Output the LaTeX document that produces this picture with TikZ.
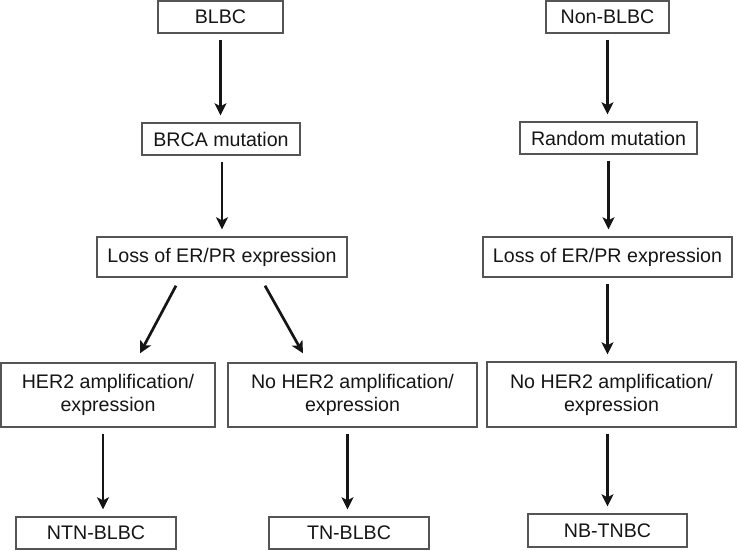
\documentclass[tikz,border=0pt]{standalone}
\usepackage{fontspec}
\setmainfont{Liberation Sans}
\usetikzlibrary{arrows.meta,calc}
\definecolor{boxgray}{HTML}{555555}
\definecolor{txt}{HTML}{151515}
\begin{document}
\begin{tikzpicture}[x=1bp,y=-1bp,
  box/.style={draw=boxgray, line width=1.4bp, inner sep=0pt, text=txt,
    font=\fontsize{19.7}{23}\selectfont, align=center},
  arr/.style={-{Stealth[length=12bp,width=12bp,inset=3bp]}, line width=2.7bp,
    draw=txt, shorten <=6bp, shorten >=7bp},
  darr/.style={-{Stealth[length=12bp,width=12bp,inset=3bp]}, line width=2.7bp, draw=txt}]
\useasboundingbox (0,0) rectangle (738,551);
% left tree
\node[box, minimum width=125bp, minimum height=32bp] (blbc) at (220.5,17) {BLBC};
\node[box, minimum width=158bp, minimum height=32bp] (brca) at (221,139) {BRCA mutation};
\node[box, minimum width=250bp, minimum height=40bp] (loss1) at (222,257) {Loss of ER/PR expression};
\node[box, minimum width=214bp, minimum height=64bp] (her2) at (108,395) {HER2 amplification/\\expression};
\node[box, minimum width=249bp, minimum height=64bp] (noher2) at (352.5,395) {No HER2 amplification/\\expression};
\node[box, minimum width=160bp, minimum height=32bp] (ntn) at (96,533) {NTN-BLBC};
\node[box, minimum width=160bp, minimum height=32bp] (tn) at (349,533) {TN-BLBC};
% right tree
\node[box, minimum width=123bp, minimum height=32bp] (nonblbc) at (607.5,17) {Non-BLBC};
\node[box, minimum width=177bp, minimum height=32bp] (random) at (608.5,138) {Random mutation};
\node[box, minimum width=249bp, minimum height=40bp] (loss2) at (607.5,257) {Loss of ER/PR expression};
\node[box, minimum width=249bp, minimum height=65bp] (noher2r) at (611.5,394.5) {No HER2 amplification/\\expression};
\node[box, minimum width=159bp, minimum height=33bp] (nbtnbc) at (607.5,530.5) {NB-TNBC};
% connectors, left
\draw[arr] (blbc.south) -- (blbc.south |- brca.north);
\draw[arr] ([xshift=1bp]brca.south) -- ([xshift=1bp]brca.south |- loss1.north);
\draw[darr] ([shift={(-46bp,-8bp)}]loss1.south) -- ([shift={(32bp,9bp)}]her2.north);
\draw[darr] ([shift={(43bp,-8bp)}]loss1.south) -- ([shift={(-49.5bp,9bp)}]noher2.north);
\draw[arr] ([xshift=-5bp]her2.south) -- ([xshift=-5bp]her2.south |- ntn.north);
\draw[arr] ([xshift=-5bp]noher2.south) -- ([xshift=-5bp]noher2.south |- tn.north);
% connectors, right
\draw[arr] (nonblbc.south) -- (nonblbc.south |- random.north);
\draw[arr] (random.south) -- (random.south |- loss2.north);
\draw[arr] (loss2.south) -- (loss2.south |- noher2r.north);
\draw[arr] (nbtnbc.north |- noher2r.south) -- (nbtnbc.north);
\end{tikzpicture}
\end{document}
